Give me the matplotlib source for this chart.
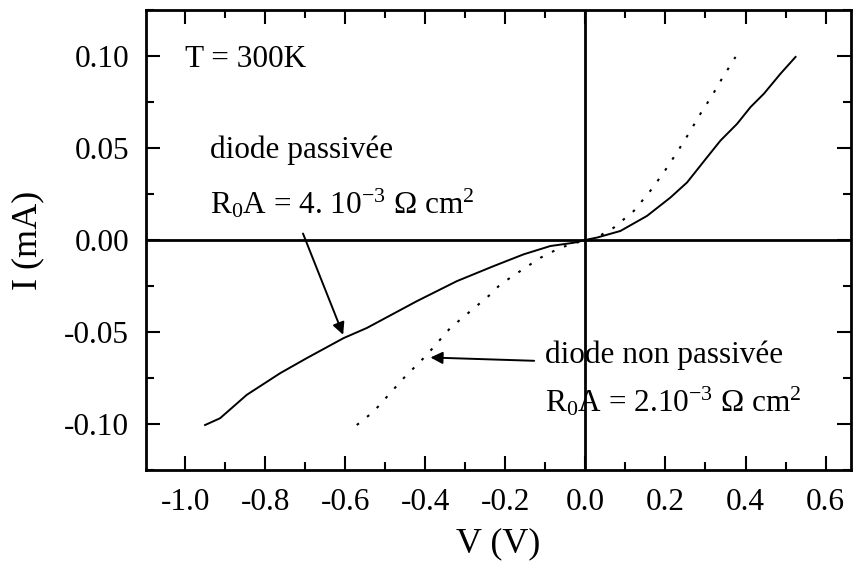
import numpy as np
import matplotlib
matplotlib.use("Agg")
import matplotlib.pyplot as plt
from matplotlib.ticker import MultipleLocator, FormatStrFormatter

# ---------- Style ----------
plt.rcParams.update({
    "font.family": "Liberation Serif",
    "mathtext.fontset": "custom",
    "mathtext.rm": "Liberation Serif",
    "mathtext.it": "Liberation Serif",
    "axes.unicode_minus": False,
    "font.size": 22,
})

# Data
# passivated diode (solid)
v_pass = [-0.95, -0.9125, -0.846, -0.7625, -0.696, -0.604, -0.546, -0.421, -0.321,
          -0.229, -0.154, -0.0875, -0.029, 0.0, 0.029, 0.0875, 0.154, 0.2125, 0.254,
          0.304, 0.3375, 0.379, 0.4125, 0.446, 0.4875, 0.525]
i_pass = [-0.1007, -0.097, -0.0843, -0.0725, -0.0643, -0.0534, -0.0479, -0.0333, -0.0224,
          -0.0142, -0.0078, -0.0033, -0.0015, 0.0, 0.0013, 0.0049, 0.0131, 0.0231, 0.0313,
          0.045, 0.0541, 0.0632, 0.0723, 0.0796, 0.0905, 0.0996]

# non passivated diode (dotted)
v_nonpass = [-0.571, -0.529, -0.454, -0.396, -0.3375, -0.2875, -0.2375, -0.2125, -0.1625,
             -0.1125, -0.0625, 0.0, 0.021, 0.071, 0.121, 0.1625, 0.196, 0.229, 0.258,
             0.2875, 0.317, 0.346, 0.3625, 0.375]
i_nonpass = [-0.1007, -0.0934, -0.0752, -0.0625, -0.0479, -0.0388, -0.0297, -0.0242, -0.0169,
             -0.0097, -0.0042, 0.0, 0.0004, 0.0067, 0.0158, 0.0268, 0.0368, 0.0477, 0.0578,
             0.0687, 0.0787, 0.0896, 0.0951, 0.0996]

fig = plt.figure(figsize=(8.54, 5.70), dpi=100)
ax = fig.add_axes([0.171, 0.176, 0.825, 0.806])

ax.plot(v_pass, i_pass, color="black", lw=1.4)
ax.plot(v_nonpass, i_nonpass, color="black", lw=1.5, linestyle=(0, (1.3, 5)))

ax.axhline(0, color="black", lw=2)
ax.axvline(0, color="black", lw=2)

ax.set_xlim(-1.0975, 0.6625)
ax.set_ylim(-0.125, 0.125)

ax.xaxis.set_major_locator(MultipleLocator(0.2))
ax.xaxis.set_minor_locator(MultipleLocator(0.1))
ax.yaxis.set_major_locator(MultipleLocator(0.05))
ax.yaxis.set_minor_locator(MultipleLocator(0.025))
ax.xaxis.set_major_formatter(FormatStrFormatter("%.1f"))
ax.yaxis.set_major_formatter(FormatStrFormatter("%.2f"))
ax.tick_params(which="both", direction="in", top=True, right=True, width=1.5, labelsize=22.5)
ax.tick_params(which="major", length=10)
ax.tick_params(axis="y", which="major", pad=12)
ax.tick_params(axis="x", which="major", pad=13)
ax.tick_params(which="minor", length=6)
for s in ax.spines.values():
    s.set_linewidth(2)

ax.set_xlabel("V (V)", fontsize=26)
ax.set_ylabel("I (mA)", fontsize=26)
ax.xaxis.set_label_coords(0.5, -0.125)
ax.yaxis.set_label_coords(-0.145, 0.5)

# annotations
ax.text(-1.0, 0.094, "T = 300K", fontsize=22.5)
ax.text(-0.9375, 0.0448, "diode passivée", fontsize=22.5)
ax.text(-0.9375, 0.0142, r"R$_0$A = 4. 10$^{-3}$ Ω cm$^2$", fontsize=22.5)
ax.text(-0.1, -0.067, "diode non passivée", fontsize=22.5)
ax.text(-0.1, -0.0934, r"R$_0$A = 2.10$^{-3}$ Ω cm$^2$", fontsize=22.5)

ax.annotate("", xy=(-0.6025, -0.053), xytext=(-0.708, 0.0049),
            arrowprops=dict(arrowstyle="-|>", color="black", lw=1.4, mutation_scale=18))
ax.annotate("", xy=(-0.394, -0.0639), xytext=(-0.121, -0.0658),
            arrowprops=dict(arrowstyle="-|>", color="black", lw=1.4, mutation_scale=18))

fig.savefig("out.png", dpi=100)
